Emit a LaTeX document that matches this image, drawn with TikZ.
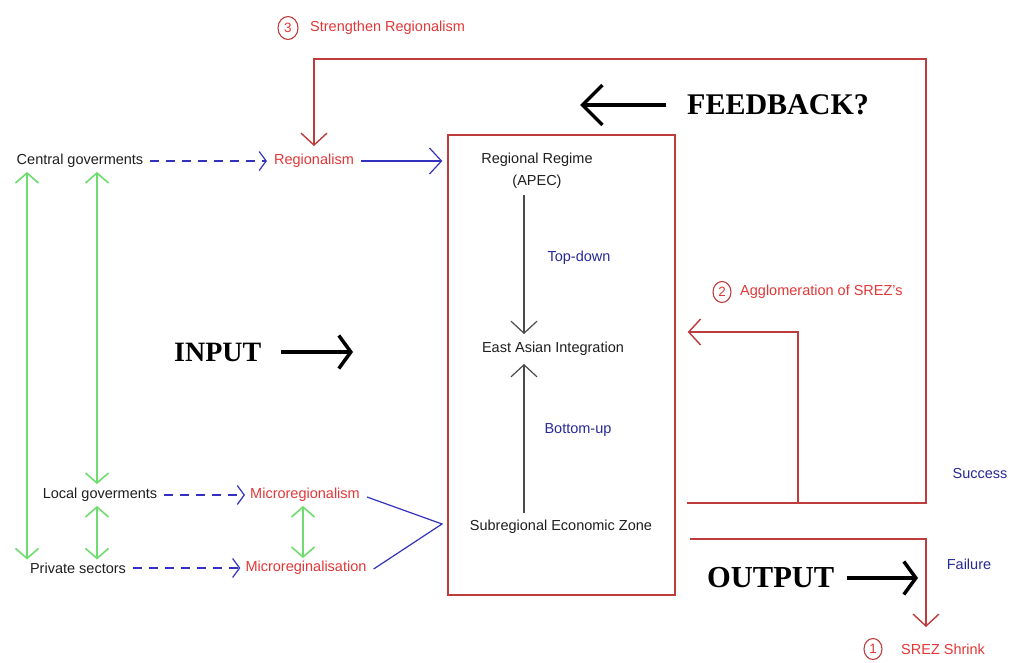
\documentclass[tikz,border=0pt]{standalone}
\usepackage{fontspec}
\setmainfont{Liberation Sans}
\newfontfamily\serifbold{Liberation Serif}
\usetikzlibrary{arrows.meta,shapes.geometric}
\definecolor{txtred}{RGB}{225,55,55}
\definecolor{linered}{RGB}{190,60,60}
\definecolor{navy}{RGB}{40,40,150}
\definecolor{lineblue}{RGB}{50,50,190}
\definecolor{lgreen}{RGB}{110,220,110}
\definecolor{txtblack}{RGB}{30,30,30}
\begin{document}
\begin{tikzpicture}[x=1pt,y=-1pt,
  every node/.style={inner sep=1pt, font=\fontsize{14.5}{17}\selectfont, text=txtblack},
  redtext/.style={text=txtred},
  navytext/.style={text=navy},
  bigtext/.style={font=\serifbold\bfseries\fontsize{28}{30}\selectfont, text=black},
  circnum/.style={ellipse, draw=linered, line width=1.1pt, text=txtred, minimum width=18pt, minimum height=21pt, inner sep=0pt, font=\fontsize{13.5}{15}\selectfont},
  thintip/.style={-{Straight Barb[length=12pt,width=26pt]}},
  smalltip/.style={-{Straight Barb[length=7pt,width=19pt]}},
  greenboth/.style={draw=lgreen, line width=1.6pt, {Straight Barb[length=10pt,width=23pt]}-{Straight Barb[length=10pt,width=23pt]}},
  bluedash/.style={draw=lineblue, line width=1.2pt, dash pattern=on 9pt off 7pt, smalltip},
  blueline/.style={draw=lineblue, line width=1.2pt},
  redline/.style={draw=linered, line width=1.4pt},
  blackline/.style={draw=txtblack!80, line width=1.2pt},
  thickarrow/.style={draw=black, line width=3.5pt, -{Straight Barb[length=12pt,width=33pt]}},
  bigthickarrow/.style={draw=black, line width=3.5pt, -{Straight Barb[length=20pt,width=40pt]}}
]
\useasboundingbox (0,0) rectangle (1013,662);

% left side texts
\node (cg) at (80,161) {Central goverments};
\node[redtext] (reg) at (314,161) {Regionalism};
\node (lg) at (100,495) {Local goverments};
\node[redtext] (mrism) at (305,495) {Microregionalism};
\node (ps) at (78,568) {Private sectors};
\node[redtext] (mris) at (306,568) {Microreginalisation};

% main box
\node[draw=linered, line width=1.4pt, minimum width=227pt, minimum height=460pt, inner sep=0pt] (box) at (561.5,365) {};
\node[align=center, font=\fontsize{14.5}{22}\selectfont] (rr) at (537,171) {Regional Regime\\(APEC)};
\node (eai) at (553,349) {East Asian Integration};
\node (sez) at (561,527) {Subregional Economic Zone};
\node[navytext] (td) at (579,258) {Top-down};
\node[navytext] (bu) at (578,430) {Bottom-up};
\coordinate (tdtop) at (524,195);
\coordinate (tdend) at (524,334);
\coordinate (bubot) at (524,513);
\coordinate (buend) at (524,364);
\draw[blackline, thintip] (tdtop) -- (tdend);
\draw[blackline, thintip] (bubot) -- (buend);

% dashed and blue connectors
\draw[bluedash] ([xshift=6pt]cg.east) -- ([xshift=-6pt]reg.west);
\draw[bluedash] ([xshift=6pt]lg.east) -- ([xshift=-4pt]mrism.west);
\draw[bluedash] ([xshift=6pt]ps.east) -- ([xshift=-4pt]mris.west);
\draw[blueline, thintip] ([xshift=6pt]reg.east) -- ([xshift=-5pt]box.west |- reg.east);
\coordinate (conv) at (442,524);
\draw[blueline] ([xshift=6pt,yshift=-2pt]mrism.east) -- (conv) -- ([xshift=6pt,yshift=-1pt]mris.east);

% green arrows
\coordinate (g1) at (27,0);
\coordinate (g2) at (97,0);
\coordinate (g3) at (303,0);
\draw[greenboth] ([yshift=-3pt]cg.south -| g1) -- ([yshift=2pt]ps.north -| g1);
\draw[greenboth] ([yshift=-3pt]cg.south -| g2) -- ([yshift=3pt]lg.north -| g2);
\draw[greenboth] ([yshift=-3pt]lg.south -| g2) -- ([yshift=2pt]ps.north -| g2);
\draw[greenboth] ([yshift=-3pt]mrism.south -| g3) -- ([yshift=2pt]mris.north -| g3);

% feedback loop (3)
\node[circnum, minimum width=20pt, minimum height=23pt] (c3) at (288,28) {3};
\node[redtext, anchor=west] (s3) at (309,28) {Strengthen Regionalism};
\coordinate (sucL) at (687,503);
\coordinate (sucR) at (926,503);
\coordinate (topR) at (926,59);
\coordinate (topL) at (314,59);
\draw[redline, thintip] (sucL) -- (sucR) -- (topR) -- (topL) -- ([yshift=7pt]reg.north -| topL);

% agglomeration (2)
\node[circnum] (c2) at (722,292) {2};
\node[redtext, anchor=west] (s2) at (739,292) {Agglomeration of SREZ's};
\coordinate (agB) at (798,503);
\coordinate (agT) at (798,332);
\draw[redline, thintip] (agB) -- (agT) -- ([xshift=12pt]box.east |- agT);

% failure (1)
\coordinate (faL) at (690,539);
\coordinate (faR) at (926,539);
\node[circnum] (c1) at (873,649) {1};
\node[redtext, anchor=west] (s1) at (900,649) {SREZ Shrink};
\draw[redline, thintip] (faL) -- (faR) -- (926,627);

\node[navytext] (suc) at (980,474) {Success};
\node[navytext] (fail) at (969,564) {Failure};

% big labels
\node[bigtext, font=\serifbold\bfseries\fontsize{30}{32}\selectfont, anchor=west] (fb) at (686,105) {FEEDBACK?};
\coordinate (fbarrow) at (580,105);
\draw[bigthickarrow] ([xshift=-20pt]fb.west) -- (fbarrow);
\node[bigtext, anchor=west] (inp) at (173,352) {INPUT};
\coordinate (inarrow) at (353,352);
\draw[thickarrow] ([xshift=18pt]inp.east) -- (inarrow);
\node[bigtext, font=\serifbold\bfseries\fontsize{30.5}{32}\selectfont, anchor=west] (out) at (706,578) {OUTPUT};
\coordinate (outarrow) at (918,578);
\draw[thickarrow] ([xshift=11pt]out.east) -- (outarrow);
\end{tikzpicture}
\end{document}
